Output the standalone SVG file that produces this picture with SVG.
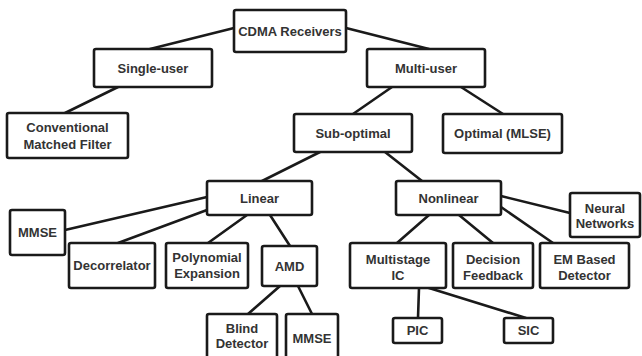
<svg xmlns="http://www.w3.org/2000/svg" width="642" height="356" viewBox="0 0 642 356">
<style>
rect{fill:#fff;stroke:#1a1a1a;stroke-width:2.6}
text{font-family:"Liberation Sans",Arial,sans-serif;font-weight:bold;font-size:13px;fill:#333;text-anchor:middle}
#connectors line{stroke:#1a1a1a;stroke-width:2.6;stroke-linecap:round}
</style>
<rect x="0" y="0" width="642" height="356" style="fill:#fff;stroke:none"/>
<g id="connectors">
<line x1="234" y1="28" x2="150" y2="49"/>
<line x1="346" y1="28" x2="429" y2="49"/>
<line x1="118" y1="87" x2="65" y2="113"/>
<line x1="392" y1="87" x2="353" y2="114"/>
<line x1="461" y1="87" x2="503" y2="114"/>
<line x1="320" y1="152" x2="262" y2="181"/>
<line x1="385" y1="152" x2="422" y2="181"/>
<line x1="207" y1="197" x2="65" y2="230"/>
<line x1="207" y1="210" x2="118" y2="243"/>
<line x1="247" y1="215" x2="208" y2="243"/>
<line x1="270" y1="215" x2="290" y2="246"/>
<line x1="280" y1="286" x2="248" y2="314"/>
<line x1="298" y1="286" x2="312" y2="314"/>
<line x1="501" y1="196" x2="570" y2="213"/>
<line x1="501" y1="207" x2="553" y2="243"/>
<line x1="429" y1="215" x2="397" y2="243"/>
<line x1="459" y1="215" x2="493" y2="243"/>
<line x1="419" y1="288" x2="418" y2="318"/>
<line x1="429" y1="288" x2="526" y2="318"/>
</g>
<g id="cdma"><rect x="234" y="10" width="112" height="42" rx="2"/><text x="290" y="35.5">CDMA Receivers</text></g>
<g id="single"><rect x="94" y="49" width="118" height="38" rx="2"/><text x="153" y="72.5">Single-user</text></g>
<g id="multi"><rect x="367" y="49" width="118" height="38" rx="2"/><text x="426" y="72.5">Multi-user</text></g>
<g id="conv"><rect x="7" y="113" width="121" height="45" rx="2"/><text x="67.5" y="131.5">Conventional</text><text x="67.5" y="148.5">Matched Filter</text></g>
<g id="sub"><rect x="294" y="114" width="118" height="38" rx="2"/><text x="353" y="137.5">Sub-optimal</text></g>
<g id="optimal"><rect x="443" y="114" width="119" height="39" rx="2"/><text x="502.5" y="138">Optimal (MLSE)</text></g>
<g id="linear"><rect x="207" y="181" width="105" height="34" rx="2"/><text x="259.5" y="202.5">Linear</text></g>
<g id="nonlinear"><rect x="396" y="181" width="105" height="34" rx="2"/><text x="448.5" y="202.5">Nonlinear</text></g>
<g id="mmse1"><rect x="10" y="210" width="55" height="45" rx="2"/><text x="37.5" y="237">MMSE</text></g>
<g id="decorrelator"><rect x="69" y="243" width="86" height="45" rx="2"/><text x="112" y="270">Decorrelator</text></g>
<g id="polynomial"><rect x="166" y="243" width="82" height="45" rx="2"/><text x="207" y="261.5">Polynomial</text><text x="207" y="277.5">Expansion</text></g>
<g id="amd"><rect x="262" y="246" width="55" height="40" rx="2"/><text x="289.5" y="270.5">AMD</text></g>
<g id="blind"><rect x="207" y="314" width="70" height="50" rx="2"/><text x="242" y="332.5">Blind</text><text x="242" y="348">Detector</text></g>
<g id="mmse2"><rect x="286" y="314" width="52" height="50" rx="2"/><text x="312" y="342.5">MMSE</text></g>
<g id="multistage"><rect x="350" y="243" width="96" height="45" rx="2"/><text x="398" y="263.5">Multistage</text><text x="398" y="279.5">IC</text></g>
<g id="decision"><rect x="453" y="243" width="80" height="45" rx="2"/><text x="493" y="263.5">Decision</text><text x="493" y="279.5">Feedback</text></g>
<g id="em"><rect x="540" y="243" width="89" height="45" rx="2"/><text x="584.5" y="263.5">EM Based</text><text x="584.5" y="279.5">Detector</text></g>
<g id="neural"><rect x="570" y="193" width="70" height="44" rx="2"/><text x="605" y="212.5">Neural</text><text x="605" y="227.5">Networks</text></g>
<g id="pic"><rect x="393" y="318" width="49" height="25" rx="2"/><text x="417.5" y="335">PIC</text></g>
<g id="sic"><rect x="504" y="318" width="49" height="25" rx="2"/><text x="528.5" y="335">SIC</text></g>
</svg>
